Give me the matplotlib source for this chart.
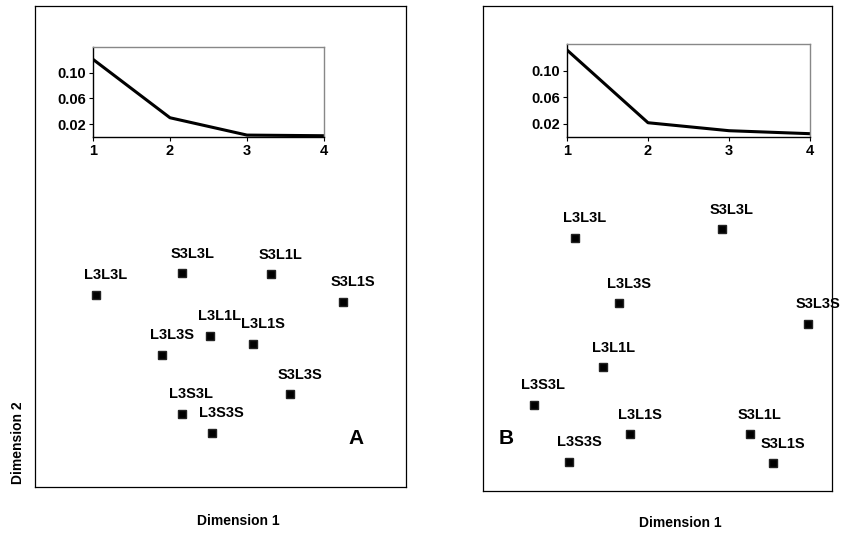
import matplotlib
matplotlib.use("Agg")
import matplotlib.pyplot as plt

plt.rcParams['font.family'] = ['Liberation Sans', 'DejaVu Sans']
plt.rcParams['font.weight'] = 'bold'

# stress (scree) values for the insets
dims = [1, 2, 3, 4]
stress_a = [0.121, 0.030, 0.003, 0.002]
stress_b = [0.131, 0.0215, 0.0095, 0.005]

# MDS configurations
labels_a = ['L3L3L', 'S3L3L', 'S3L1L', 'S3L1S', 'L3L1L',
            'L3L1S', 'L3L3S', 'S3L3S', 'L3S3L', 'L3S3S']
x_a = [-1.34, -0.41, 0.54, 1.32, -0.11, 0.35, -0.63, 0.75, -0.42, -0.09]
y_a = [-0.40, -0.22, -0.23, -0.46, -0.74, -0.81, -0.90, -1.23, -1.39, -1.55]

labels_b = ['L3L3L', 'S3L3L', 'L3L3S', 'S3L3S', 'L3L1L',
            'L3S3L', 'L3L1S', 'S3L1L', 'L3S3S', 'S3L1S']
x_b = [-0.95, 0.74, -0.44, 1.73, -0.62, -1.42, -0.31, 1.06, -1.01, 1.32]
y_b = [0.09, 0.16, -0.45, -0.62, -0.98, -1.29, -1.53, -1.53, -1.76, -1.77]

fig = plt.figure(figsize=(8.43, 5.35), dpi=100)


def panel(rect, xs, ys, names, letter, letter_pos):
    ax = fig.add_axes(rect)
    ax.plot(xs, ys, 's', color='black', markersize=6, markeredgecolor='#222222')
    for x, y, n in zip(xs, ys, names):
        ax.annotate(n, (x, y), xytext=(7, 14), textcoords='offset points',
                    ha='center', va='center', fontsize=10.5, fontweight='bold',
                    annotation_clip=False)
    ax.text(letter_pos[0], letter_pos[1], letter, transform=ax.transAxes,
            fontsize=15, fontweight='bold', ha='center', va='center')
    ax.set_xlim(-2, 2)
    ax.set_ylim(-2, 2)
    ax.set_xticks([])
    ax.set_yticks([])
    for s in ax.spines.values():
        s.set_linewidth(0.9)
    return ax


def inset(rect, vals):
    ax = fig.add_axes(rect)
    ax.plot(dims, vals, color='black', lw=2.2, solid_capstyle='butt')
    ax.set_xlim(1, 4)
    ax.set_ylim(0, 0.14)
    ax.set_xticks(dims)
    ax.set_yticks([0.02, 0.06, 0.10])
    ax.set_yticklabels(['0.02', '0.06', '0.10'])
    ax.tick_params(labelsize=10.5, length=3, width=0.8, pad=2)
    for lab in ax.get_xticklabels() + ax.get_yticklabels():
        lab.set_fontweight('bold')
    ax.spines['top'].set_color('#888888')
    ax.spines['right'].set_color('#888888')
    for s in ax.spines.values():
        s.set_linewidth(1.0)
    return ax


panel([0.0415, 0.0897, 0.4401, 0.899], x_a, y_a, labels_a, 'A', (0.865, 0.101))
panel([0.573, 0.0822, 0.414, 0.9065], x_b, y_b, labels_b, 'B', (0.066, 0.109))
inset([0.1103, 0.7439, 0.274, 0.168], stress_a)
inset([0.6726, 0.7439, 0.2883, 0.1738], stress_b)

fig.text(238 / 843, 1 - 521 / 535, 'Dimension 1', ha='center', va='center',
         fontsize=10, fontweight='bold')
fig.text(680 / 843, 1 - 523 / 535, 'Dimension 1', ha='center', va='center',
         fontsize=10, fontweight='bold')
fig.text(18 / 843, 1 - 443 / 535, 'Dimension 2', ha='center', va='center',
         rotation=90, fontsize=10, fontweight='bold')

fig.savefig('out.png', dpi=100)
